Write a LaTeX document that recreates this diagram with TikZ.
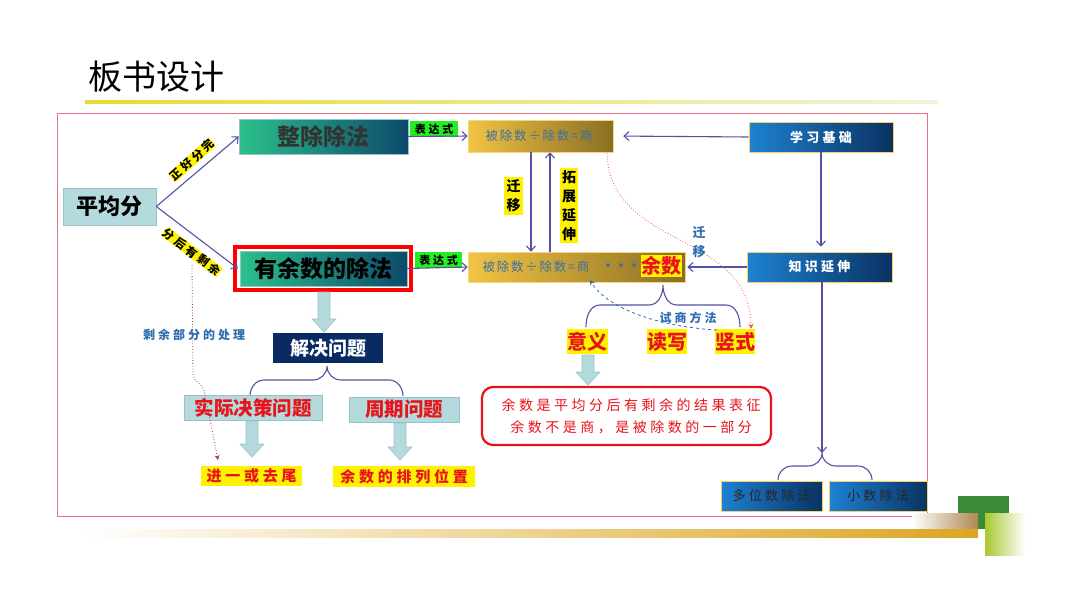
\documentclass[tikz,border=0pt]{standalone}
\usepackage{fontspec}
\newfontfamily\cjk{Noto Sans CJK SC}
\newfontfamily\cjksp{Noto Sans CJK SC}[LetterSpace=25]
\newfontfamily\cjkst{Noto Sans CJK SC}[LetterSpace=14]
\usetikzlibrary{arrows.meta}
\newcommand\myfs[2]{\fontsize{#1}{#2}\selectfont}
\definecolor{framec}{HTML}{E87080}
\definecolor{arrowc}{HTML}{5550A8}
\definecolor{gL}{HTML}{2CC08C}
\definecolor{gR}{HTML}{0C4A6C}
\definecolor{oL}{HTML}{F2C444}
\definecolor{oR}{HTML}{8A6E24}
\definecolor{bL}{HTML}{1E82D2}
\definecolor{bR}{HTML}{0A3262}
\definecolor{lblue}{HTML}{B4DADE}
\definecolor{lblued}{HTML}{98C2C8}
\definecolor{navy}{HTML}{0A2A64}
\definecolor{redt}{HTML}{E8141C}
\definecolor{ftext}{HTML}{3C70A0}
\definecolor{ygreen}{HTML}{22EE22}
\definecolor{goldbar}{HTML}{DCA522}
\definecolor{dgreen}{HTML}{3A8A38}
\definecolor{lgreen}{HTML}{A8C830}
\definecolor{tan}{HTML}{B08850}
\definecolor{blbl}{HTML}{2E6EB0}
\definecolor{dred}{HTML}{A03838}
\definecolor{ulL}{HTML}{E6DC30}
\definecolor{ulR}{HTML}{F2F2DC}
\newcommand\blk[3]{\filldraw[fill=lblue,draw=lblued,line width=0.6pt] (#1-6,#2) -- (#1+6,#2) -- (#1+6,#3-13) -- (#1+12,#3-13) -- (#1,#3) -- (#1-12,#3-13) -- (#1-6,#3-13) -- cycle;}
\newcommand\brc[6]{\draw[brcs] (#3,#6) to[out=90,in=180] (#3+14,#5) -- (#1-14,#5) to[out=0,in=-90] (#1,#2) to[out=-90,in=180] (#1+14,#5) -- (#4-14,#5) to[out=0,in=90] (#4,#6);}
\begin{document}
\begin{tikzpicture}[x=1pt,y=-1pt,font=\cjk,
  arr/.style={draw=arrowc,line width=1.1pt,-{Straight Barb[length=5pt,width=9pt]}},
  brcs/.style={draw=arrowc,line width=1.1pt},
  gbox/.style={inner sep=0pt,left color=gL,right color=gR,draw=lblued,line width=0.5pt},
  obox/.style={inner sep=0pt,left color=oL,right color=oR,draw=oL!70!white,line width=0.5pt},
  bbox/.style={inner sep=0pt,left color=bL,right color=bR,draw=oL!80!white,line width=0.6pt},
  lbox/.style={inner sep=0pt,fill=lblue,draw=lblued,line width=0.6pt},
  ylab/.style={inner sep=0pt,fill=yellow},
  glab/.style={inner sep=0pt,fill=ygreen,font=\cjksp\bfseries\myfs{11}{13}},
  rlab/.style={inner sep=0pt,fill=yellow,text=redt,font=\cjk\bfseries\myfs{20}{22}},
  ]
\useasboundingbox (0,0) rectangle (1080,608);
\fill[white] (0,0) rectangle (1080,608);
% title
\node[anchor=west,inner sep=0pt,font=\cjk\myfs{34}{36}] (title) at (88,77) {板书设计};
\shade[left color=ulL,right color=ulR] (85,100) rectangle (938,103);
% frame
\draw[framec,line width=0.8pt] (57,113) rectangle (927,516);
% left nodes
\node[lbox,minimum width=93pt,minimum height=37pt,font=\cjk\bfseries\myfs{22}{24}] (avg) at (109.5,206.5) {平均分};
\node[gbox,minimum width=169pt,minimum height=35pt,text=black!80,font=\cjk\bfseries\myfs{23}{25}] (zc) at (323.5,136.5) {整除除法};
\draw[red,line width=4pt] (235,247) rectangle (411,290);
\node[gbox,minimum width=167pt,minimum height=35pt,text=black,font=\cjk\bfseries\myfs{23}{25}] (yy) at (323.5,268.5) {有余数的除法};
\draw[arr] (avg.east) -- (zc.west);
\draw[arr] (avg.east) -- ([xshift=-2pt]yy.west);
\node[ylab,rotate=42,font=\cjksp\bfseries\myfs{11.5}{13}] (zh) at (192,160) {正好分完};
\node[ylab,rotate=-37,font=\cjksp\bfseries\myfs{11.5}{13}] (fh) at (192,252) {分后有剩余};
% expressions
\node[glab,minimum width=48pt,minimum height=16pt] (e1) at (434,129) {表达式};
\node[glab,minimum width=47pt,minimum height=16pt] (e2) at (438.5,260) {表达式};
\node[obox,minimum width=145pt,minimum height=32pt] (f1) at (540.5,136) {};
\node[text=ftext,font=\cjkst\myfs{12.5}{14}] (f1t) at (539,136) {被除数÷除数=商};
\node[obox,minimum width=217pt,minimum height=30pt] (f2) at (576.5,267) {};
\node[text=ftext,font=\cjkst\myfs{12.5}{14}] (f2t) at (536,267) {被除数÷除数=商};
\node[text=ftext,font=\cjk\bfseries\myfs{13}{14}] (dots) at (621,267) {・・・};
\node[rlab,minimum width=41pt,minimum height=22pt] (ys) at (661.5,266) {余数};
\draw[arr] (zc.east) -- (f1.west);
\draw[arr] (yy.east) -- (f2.west);
% right blue boxes
\node[bbox,minimum width=144pt,minimum height=30pt,text=white,font=\cjksp\bfseries\myfs{13}{14}] (xx) at (821,137) {学习基础};
\node[bbox,minimum width=145pt,minimum height=30pt,text=white,font=\cjksp\bfseries\myfs{13}{14}] (zs) at (819.5,267) {知识延伸};
\node[bbox,minimum width=101pt,minimum height=30pt,text=black!85,font=\cjksp\myfs{13}{14}] (d1) at (771.5,496) {多位数除法};
\node[bbox,minimum width=98pt,minimum height=30pt,text=black!85,font=\cjksp\myfs{13}{14}] (d2) at (878,496) {小数除法};
\draw[arr,shorten >=10pt] (xx.west) -- (f1.east);
\draw[arr,shorten >=5pt] (xx.south) -- (xx.south |- zs.north);
\draw[arr,shorten >=2pt] (zs.west) -- (f2.east);
\coordinate (b3) at (822,453);
\draw[arr] ([xshift=2.5pt]zs.south) -- (b3);
\brc{822}{453}{778}{872}{466}{480}
% migrate arrows
\draw[arr] ([xshift=-9.5pt]f1.south) -- ([xshift=-9.5pt]f1.south |- f2.north);
\draw[arr] ([xshift=9.5pt]f1.south |- f2.north) -- ([xshift=9.5pt]f1.south);
\node[ylab,minimum width=19pt,minimum height=38pt,align=center,font=\cjk\bfseries\myfs{14}{19}] (q1) at (513.5,196) {迁\\移};
\node[ylab,minimum width=18pt,minimum height=75pt,align=center,font=\cjk\bfseries\myfs{14}{19}] (tz) at (569,205.5) {拓\\展\\延\\伸};
% meaning etc
\node[rlab,minimum width=41pt,minimum height=25pt] (yi) at (587.5,341.5) {意义};
\node[rlab,minimum width=40pt,minimum height=25pt] (dx) at (667,341.5) {读写};
\node[rlab,minimum width=40pt,minimum height=25pt] (ss) at (735,341.5) {竖式};
\brc{663}{285}{586}{740}{305}{327}
\draw[red!70,dotted,line width=0.8pt,-{Stealth[length=5pt,width=5pt]}] (607,153) .. controls (610,250) and (750,230) .. ([xshift=16pt]ss.north);
\node[text=blbl,align=center,font=\cjk\bfseries\myfs{13}{19}] (qy) at (699,242) {迁\\移};
\draw[blbl,dashed,line width=0.8pt,-{Stealth[length=5pt,width=5pt]}] (717,330) .. controls (650,326) and (605,305) .. (590,280);
\node[text=blbl,font=\cjksp\bfseries\myfs{12}{14}] (sh) at (688,318) {试商方法};
\blk{588}{355}{385}
\node[draw=redt,line width=2.2pt,rounded corners=11pt,minimum width=289pt,minimum height=58pt,inner sep=0pt] (rb) at (626.5,416) {};
\node[text=redt,align=center,font=\cjksp\myfs{14}{22}] (rbt) at (631,416) {余数是平均分后有剩余的结果表征\\余数不是商，是被除数的一部分};
% bottom left
\blk{324}{292}{332}
\node[fill=navy,inner sep=0pt,minimum width=110pt,minimum height=30pt,text=white,font=\cjk\bfseries\myfs{19}{21}] (jj) at (328,348) {解决问题};
\brc{327}{366}{250}{403}{380}{396}
\node[lbox,minimum width=138pt,minimum height=25pt,text=redt,font=\cjk\bfseries\myfs{19.5}{21}] (sj) at (253,408) {实际决策问题};
\node[lbox,minimum width=110pt,minimum height=25pt,text=redt,font=\cjk\bfseries\myfs{19.5}{21}] (zq) at (404,409.5) {周期问题};
\blk{252}{421}{457}
\blk{400}{423}{460}
\node[ylab,minimum width=101pt,minimum height=20pt,text=redt,font=\cjksp\bfseries\myfs{15}{16}] (jy) at (251.5,476) {进一或去尾};
\node[ylab,minimum width=142pt,minimum height=21pt,text=redt,font=\cjksp\bfseries\myfs{15}{16}] (pl) at (404,476.5) {余数的排列位置};
\draw[dred,dotted,line width=0.8pt,-{Stealth[length=5pt,width=5pt]}] (192,265) -- (193,375) .. controls (194,382) and (202,384) .. (204,390) -- (218,460);
\node[text=blbl,font=\cjksp\bfseries\myfs{12}{14}] (sy) at (194,335) {剩余部分的处理};
% decoration
\fill[dgreen] (958,496) rectangle (1009,529);
\shade[left color=white,right color=tan] (912,513) rectangle (978,529);
\shade[left color=white,right color=goldbar] (80,529) rectangle (978,537);
\shade[left color=lgreen,right color=white] (985,513) rectangle (1025,555);
\end{tikzpicture}
\end{document}
